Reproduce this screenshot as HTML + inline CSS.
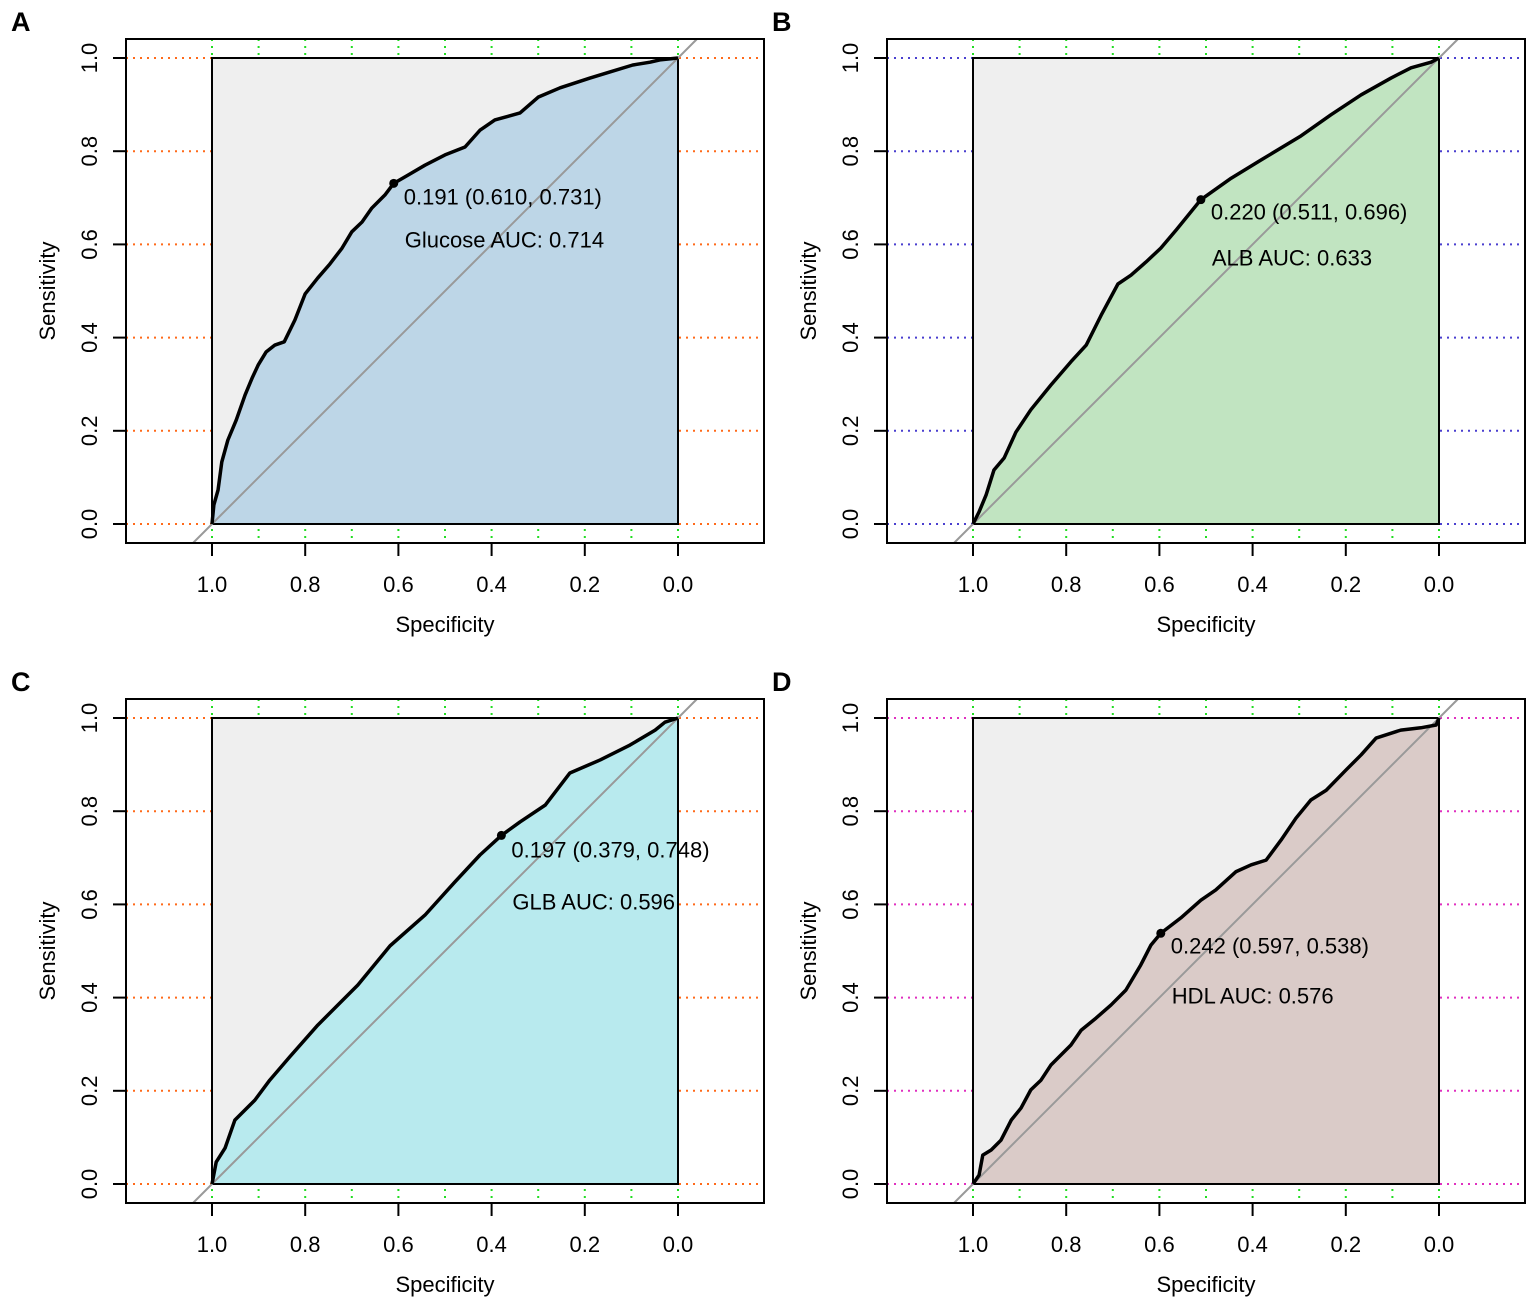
<!DOCTYPE html>
<html><head><meta charset="utf-8">
<style>
html,body{margin:0;padding:0;background:#fff;}
svg{display:block;font-family:"Liberation Sans",Arial,sans-serif;}
</style></head>
<body>
<svg id="chart" width="1535" height="1306" viewBox="0 0 1535 1306" xmlns="http://www.w3.org/2000/svg"></svg>
<script>
// Data: [specificity, sensitivity]
const glucoseSpec=[1,0.996,0.987,0.979,0.966,0.948,0.929,0.914,0.901,0.884,0.865,0.845,0.822,0.800,0.773,0.747,0.721,0.700,0.678,0.657,0.629,0.610,0.579,0.543,0.500,0.457,0.425,0.393,0.339,0.300,0.253,0.189,0.146,0.097,0.060,0.039,0];
const glucoseSens=[0,0.041,0.073,0.133,0.180,0.223,0.277,0.313,0.341,0.369,0.384,0.391,0.438,0.494,0.528,0.558,0.592,0.627,0.648,0.678,0.706,0.731,0.749,0.770,0.792,0.809,0.845,0.867,0.882,0.916,0.936,0.957,0.970,0.985,0.991,0.996,1];
const albSpec=[1,0.987,0.972,0.955,0.933,0.908,0.876,0.833,0.790,0.757,0.725,0.689,0.661,0.629,0.597,0.564,0.511,0.446,0.382,0.296,0.232,0.167,0.103,0.060,0.017,0];
const albSens=[0,0.026,0.062,0.116,0.142,0.197,0.245,0.298,0.348,0.384,0.448,0.515,0.534,0.562,0.592,0.631,0.696,0.742,0.781,0.833,0.878,0.921,0.957,0.979,0.991,1];
const glbSpec=[1,0.991,0.972,0.951,0.908,0.876,0.833,0.773,0.687,0.618,0.543,0.479,0.425,0.379,0.339,0.285,0.232,0.167,0.103,0.049,0.028,0];
const glbSens=[0,0.047,0.077,0.137,0.180,0.223,0.273,0.341,0.427,0.511,0.577,0.648,0.706,0.748,0.777,0.813,0.882,0.910,0.942,0.974,0.991,1];
const hdlSpec=[1,0.987,0.979,0.961,0.940,0.918,0.897,0.876,0.854,0.833,0.811,0.790,0.768,0.736,0.704,0.672,0.640,0.618,0.597,0.554,0.511,0.479,0.436,0.403,0.371,0.339,0.307,0.275,0.242,0.200,0.167,0.135,0.082,0.039,0.006,0];
const hdlSens=[0,0.019,0.062,0.073,0.094,0.137,0.163,0.202,0.223,0.255,0.277,0.298,0.330,0.356,0.384,0.416,0.470,0.513,0.538,0.571,0.609,0.631,0.670,0.685,0.695,0.738,0.785,0.824,0.845,0.888,0.921,0.957,0.974,0.979,0.985,1];
const bestPoints=[[0.610,0.731],[0.511,0.696],[0.379,0.748],[0.597,0.538]];
const bestLabels=["0.191 (0.610, 0.731)","0.220 (0.511, 0.696)","0.197 (0.379, 0.748)","0.242 (0.597, 0.538)"];
const aucLabels=["Glucose AUC: 0.714","ALB AUC: 0.633","GLB AUC: 0.596","HDL AUC: 0.576"];
const xTicks=[1.0,0.8,0.6,0.4,0.2,0.0];
const yTicks=[0.0,0.2,0.4,0.6,0.8,1.0];
const xTickLabels=["1.0","0.8","0.6","0.4","0.2","0.0"];
const yTickLabels=["0.0","0.2","0.4","0.6","0.8","1.0"];

const NS="http://www.w3.org/2000/svg";
const svg=document.getElementById('chart');
function mk(tag,attrs,parent){const e=document.createElementNS(NS,tag);for(const k in attrs)e.setAttribute(k,attrs[k]);(parent||svg).appendChild(e);return e;}

const FS=22;
const panels=[
 {letter:"A",ox:0,oy:0,spec:glucoseSpec,sens:glucoseSens,fill:"#bdd6e7",grid:"#ff6a1a",textDy:[13,56],name:"glucose"},
 {letter:"B",ox:761,oy:0,spec:albSpec,sens:albSens,fill:"#c1e4c1",grid:"#4a3fcf",textDy:[12,58],name:"alb"},
 {letter:"C",ox:0,oy:660,spec:glbSpec,sens:glbSens,fill:"#b8eaee",grid:"#ff6a1a",textDy:[14,66],name:"glb"},
 {letter:"D",ox:761,oy:660,spec:hdlSpec,sens:hdlSens,fill:"#dacbc8",grid:"#e030c0",textDy:[12,62],name:"hdl"}
];
const U=466;
panels.forEach((p,i)=>{
  const g=mk('g',{});
  
  
  const X=s=>p.ox+212+(1-s)*U;
  const Y=v=>p.oy+524-v*U;
  const bx0=p.ox+126,bx1=p.ox+764,by0=p.oy+39,by1=p.oy+543;
  for(let k=0;k<=10;k++){const s=k/10;
    const l=mk('line',{x1:X(s),x2:X(s),y1:by0,y2:by1,stroke:"#22dd22","stroke-width":2,"stroke-dasharray":"2,5"},g);
    }
  for(let k=0;k<=5;k++){const v=k/5;
    const l=mk('line',{x1:bx0,x2:bx1,y1:Y(v),y2:Y(v),stroke:p.grid,"stroke-width":2,"stroke-dasharray":"2,5"},g);
    }
  const r=mk('rect',{x:X(1),y:Y(1),width:U,height:U,fill:"#efefef"},g);
  
  let pts=p.spec.map((s,j)=>X(s)+","+Y(p.sens[j])).join(" ");
  pts+=" "+X(0)+","+Y(0)+" "+X(1)+","+Y(0);
  const poly=mk('polygon',{points:pts,fill:p.fill},g);
  
  const rb=mk('rect',{x:X(1),y:Y(1),width:U,height:U,fill:"none",stroke:"#000","stroke-width":2},g);
  
  const d=mk('line',{x1:X(1)-(by1-Y(0)),y1:by1,x2:X(0)+(Y(1)-by0),y2:by0,stroke:"#999","stroke-width":2},g);
  
  const cl=mk('polyline',{points:p.spec.map((s,j)=>X(s)+","+Y(p.sens[j])).join(" "),fill:"none",stroke:"#000","stroke-width":3.5,"stroke-linejoin":"round"},g);
  
  const bp=bestPoints[i];
  const c=mk('circle',{cx:X(bp[0]),cy:Y(bp[1]),r:4.5,fill:"#000"},g);
  
  const t1=mk('text',{x:X(bp[0])+10,y:Y(bp[1])+p.textDy[0]+8,"font-size":FS,fill:"#000"},g);t1.textContent=bestLabels[i];
  
  const t2=mk('text',{x:X(bp[0])+11,y:Y(bp[1])+p.textDy[1]+8,"font-size":FS,fill:"#000"},g);t2.textContent=aucLabels[i];
  
  const ab=mk('rect',{x:bx0,y:by0,width:bx1-bx0,height:by1-by0,fill:"none",stroke:"#000","stroke-width":2},g);
  
  xTicks.forEach((s,j)=>{
    const tl=mk('line',{x1:X(s),x2:X(s),y1:by1,y2:by1+13,stroke:"#000","stroke-width":2},g);
    
    const tt=mk('text',{x:X(s),y:p.oy+592,"font-size":FS,"text-anchor":"middle"},g);tt.textContent=xTickLabels[j];
    
  });
  yTicks.forEach((v,j)=>{
    const tl=mk('line',{x1:bx0-13,x2:bx0,y1:Y(v),y2:Y(v),stroke:"#000","stroke-width":2},g);
    
    const tt=mk('text',{x:0,y:0,"font-size":FS,"text-anchor":"middle",transform:`translate(${p.ox+97},${Y(v)}) rotate(-90)`},g);tt.textContent=yTickLabels[j];
    
  });
  const xt=mk('text',{x:p.ox+445,y:p.oy+632,"font-size":FS,"text-anchor":"middle"},g);xt.textContent="Specificity";
  
  const yt=mk('text',{x:0,y:0,"font-size":FS,"text-anchor":"middle",transform:`translate(${p.ox+55},${p.oy+291}) rotate(-90)`},g);yt.textContent="Sensitivity";
  
  const lt=mk('text',{x:p.ox+11,y:p.oy+31,"font-size":27,"font-weight":"bold"},g);lt.textContent=p.letter;
  
});
</script>
</body></html>
